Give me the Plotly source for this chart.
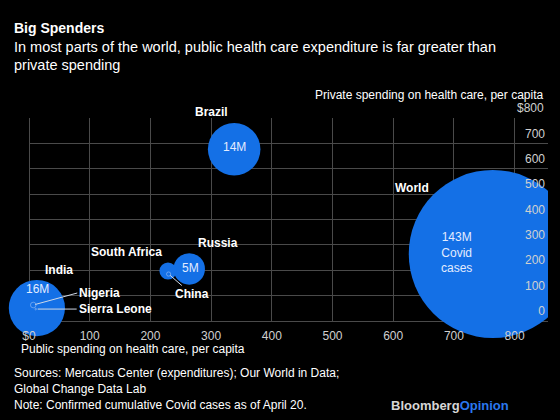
import plotly.graph_objects as go

# ---- data ----
countries = ["World", "India", "Brazil", "Russia", "South Africa", "China", "Nigeria", "Sierra Leone"]
public_spend = [764, 13, 338, 264, 229, 230, 7, 11]
private_spend = [264, 51, 677, 205, 197, 185, 63, 47]
cases_m = [143, 16, 14, 5, 1.5, 0.09, 0.16, 0.004]
case_labels = ["143M<br>Covid<br>cases", "16M", "14M", "5M", "", "", "", ""]
x_ticks = [0, 100, 200, 300, 400, 500, 600, 700, 800]
x_ticktext = ["$0", "100", "200", "300", "400", "500", "600", "700", "800"]
y_ticks = [0, 100, 200, 300, 400, 500, 600, 700, 800]
y_ticktext = ["0", "100", "200", "300", "400", "500", "600", "700", "$800"]

# ---- layout geometry (pixels) ----
W, H = 560, 420
L, R, T, B = 29, 12, 118, 99
PW, PH = W - L - R, H - T - B

def px(x):
    return (x - L) / PW

def py(y):
    return (H - B - y) / PH

BLUE = "#1470e6"
GRID = "#4a4a4a"
TICK = "#d0d0d0"
FONT = "Liberation Sans, Arial, Helvetica, sans-serif"

max_diam = 168
sizeref = 2 * max(cases_m) / max_diam ** 2

fig = go.Figure()
# World (clipped on the right edge)
fig.add_trace(go.Scatter(
    x=public_spend[:1], y=private_spend[:1], mode="markers",
    marker=dict(size=cases_m[:1], sizemode="area", sizeref=sizeref, color=BLUE,
                opacity=1, line=dict(width=0)),
    cliponaxis=False, hoverinfo="skip", showlegend=False))
fig.add_trace(go.Scatter(
    x=public_spend[1:], y=private_spend[1:], mode="markers",
    marker=dict(size=cases_m[1:], sizemode="area", sizeref=sizeref, sizemin=0.8,
                color=BLUE, opacity=1,
                line=dict(width=[0, 0, 0, 0, 0.6, 0.6, 0.6], color="#9cc0f7")),
    cliponaxis=False, hoverinfo="skip", showlegend=False))

# mask beyond the right edge of the plot
fig.add_shape(type="rect", xref="paper", yref="paper", x0=1, x1=1.2, y0=-0.5, y1=1.2,
              fillcolor="black", line=dict(width=0), layer="above")

ann = []
def label(i, text, dx, dy, bold=True, size=12, color="white"):
    ann.append(dict(x=public_spend[i], y=private_spend[i], xref="x", yref="y",
                    text=f"<b>{text}</b>" if bold else text, showarrow=False,
                    xshift=dx, yshift=dy, font=dict(size=size, color=color, family=FONT)))

label(2, "Brazil", -23, 37)
label(0, "World", -81, 66)
label(3, "Russia", 29, 26)
label(4, "South Africa", -42, 19)
label(1, "India", 22, 38)
# case labels inside bubbles
label(0, case_labels[0], -36, 2, bold=False, color="#e3ecff")
label(1, case_labels[1], 1, 19, bold=False, color="#e3ecff")
label(2, case_labels[2], 0, 2, bold=False, color="#e3ecff")
label(3, case_labels[3], 1, 1, bold=False, color="#e3ecff")

def arrow_label(i, text, ax, ay, xanchor="center"):
    ann.append(dict(x=public_spend[i], y=private_spend[i], xref="x", yref="y",
                    text=f"<b>{text}</b>", showarrow=True, arrowhead=0, arrowwidth=1,
                    arrowcolor="#cfd8e6", ax=ax, ay=ay, xanchor=xanchor, standoff=2,
                    font=dict(size=12, color="white", family=FONT)))

arrow_label(5, "China", 23, 20)
arrow_label(6, "Nigeria", 44, -12, xanchor="left")
arrow_label(7, "Sierra Leone", 41, 0, xanchor="left")

# top y tick label (sits above the plot area, so drawn as an annotation)
ann.append(dict(x=1, y=y_ticks[-1], xref="paper", yref="y", text=y_ticktext[-1],
                showarrow=False, xanchor="right", yanchor="middle", xshift=-2, yshift=10,
                font=dict(size=12, color=TICK, family=FONT)))

def text(x, y, t, size=12, color="white", xanchor="left"):
    ann.append(dict(x=px(x), y=py(y), xref="paper", yref="paper", text=t, showarrow=False,
                    xanchor=xanchor, yanchor="middle", align="left",
                    font=dict(size=size, color=color, family=FONT)))

text(12, 28, "<b>Big Spenders</b>", size=14)
text(12, 47, "In most parts of the world, public health care expenditure is far greater than", size=14.5)
text(12, 65, "private spending", size=14.5)
text(545, 95, "Private spending on health care, per capita", size=12, xanchor="right")
text(19, 349, "Public spending on health care, per capita", size=12)
text(12, 373, "Sources: Mercatus Center (expenditures); Our World in Data;", size=12)
text(12, 389, "Global Change Data Lab", size=12)
text(12, 405, "Note: Confirmed cumulative Covid cases as of April 20.", size=12)
text(511, 405, "<b><span style='color:#d6d6d6'>Bloomberg</span><span style='color:#2a78ee'>Opinion</span></b>",
     size=13, xanchor="right")

fig.update_layout(
    width=W, height=H, margin=dict(l=L, r=R, t=T, b=B),
    paper_bgcolor="black", plot_bgcolor="black",
    font=dict(family=FONT, color=TICK, size=12),
    showlegend=False, annotations=ann,
    xaxis=dict(range=[0, 855], tickvals=x_ticks, ticktext=x_ticktext, showgrid=True,
               gridcolor=GRID, gridwidth=1, zeroline=True, zerolinecolor=GRID, zerolinewidth=1,
               showline=False, ticks="", ticklabelstandoff=6,
               tickfont=dict(size=12, color=TICK, family=FONT), fixedrange=True),
    yaxis=dict(range=[0, 800], tickvals=y_ticks, ticktext=y_ticktext, side="right",
               ticklabelposition="inside", ticklabelshift=-10, showgrid=True,
               gridcolor=GRID, gridwidth=1, zeroline=True, zerolinecolor=GRID, zerolinewidth=1,
               showline=False, ticks="",
               tickfont=dict(size=12, color=TICK, family=FONT), fixedrange=True),
)

fig.write_html("out.html", config={"displayModeBar": False},
               post_script="document.body.style.margin='0';document.body.style.background='black';")
